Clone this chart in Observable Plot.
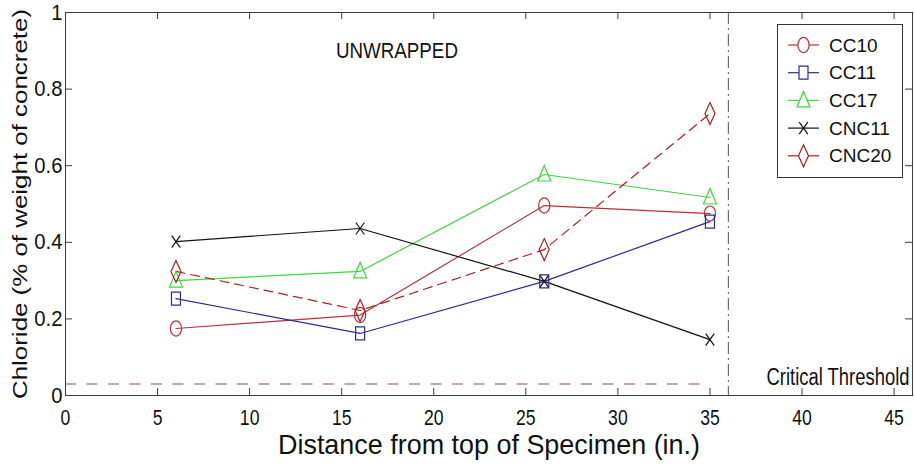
<!DOCTYPE html>
<html>
<head>
<meta charset="utf-8">
<script src="https://cdn.jsdelivr.net/npm/d3@7"></script>
<script src="https://cdn.jsdelivr.net/npm/@observablehq/plot@0.6"></script>
<style>
  html, body { margin: 0; padding: 0; background: white; }
  #wrap { position: relative; width: 914px; height: 475px; overflow: hidden; }
  #legend { position: absolute; left: 777px; top: 24px; width: 126px; height: 154px;
            border: 1px solid #333; background: white; box-sizing: border-box; }
</style>
</head>
<body>
<div id="wrap"><div id="chart"></div><div id="legend"></div></div>
<script>
// ---- data ----
const distances = [6, 16, 26, 35];
const seriesNames = ["CC10", "CC11", "CC17", "CNC11", "CNC20"];
const cc10  = [0.175, 0.21, 0.496, 0.475];
const cc11  = [0.253, 0.162, 0.298, 0.454];
const cc17  = [0.300, 0.324, 0.577, 0.517];
const cnc11 = [0.402, 0.436, 0.298, 0.146];
const cnc20 = [0.324, 0.222, 0.381, 0.736];
const xTicks = [0, 5, 10, 15, 20, 25, 30, 35, 40, 45];
const yTicks = [0, 0.2, 0.4, 0.6, 0.8, 1];
const xDomain = [0, 46];
const yDomain = [0, 1];
const thresholdValue = 0.03;
const thresholdSpan = [0, 35];
const boundaryX = 36;
const annotX = 18, annotY = 0.9;
const annotText = "UNWRAPPED";
const thresholdText = "Critical Threshold";
const xLabel = "Distance from top of Specimen (in.)";
const yLabel = "Chloride (% of weight of concrete)";

const seriesValues = [cc10, cc11, cc17, cnc11, cnc20];
const colors = ["#B8303C", "#2B2B8F", "#3CD83C", "#111111", "#A82020"];
const dashes = [null, null, null, null, "9,6"];

// custom marker shapes (MATLAB-like, slightly tall)
function ellipsePath(ctx, rx, ry) {
  const k = 0.5523;
  ctx.moveTo(rx, 0);
  ctx.bezierCurveTo(rx, k * ry, k * rx, ry, 0, ry);
  ctx.bezierCurveTo(-k * rx, ry, -rx, k * ry, -rx, 0);
  ctx.bezierCurveTo(-rx, -k * ry, -k * rx, -ry, 0, -ry);
  ctx.bezierCurveTo(k * rx, -ry, rx, -k * ry, rx, 0);
  ctx.closePath();
}
const symCircle = {draw(ctx) { ellipsePath(ctx, 5.6, 7.6); }};
const symSquare = {draw(ctx) { ctx.rect(-4.5, -6.5, 9, 13); }};
const symTriangle = {draw(ctx) { ctx.moveTo(0, -9); ctx.lineTo(6.5, 6.5); ctx.lineTo(-6.5, 6.5); ctx.closePath(); }};
const symX = {draw(ctx) { ctx.moveTo(-4.3, -6); ctx.lineTo(4.3, 6); ctx.moveTo(4.3, -6); ctx.lineTo(-4.3, 6); }};
const symDiamond = {draw(ctx) { ctx.moveTo(0, -11); ctx.lineTo(5, 0); ctx.lineTo(0, 11); ctx.lineTo(-5, 0); ctx.closePath(); }};
const symbols = [symCircle, symSquare, symTriangle, symX, symDiamond];

const rows = [];
seriesNames.forEach((name, i) => {
  seriesValues[i].forEach((v, j) => rows.push({series: name, idx: i, x: distances[j], y: v}));
});

const font = "'Liberation Sans', Arial, sans-serif";

const W = 914, H = 475, mL = 65, mR = 2, mT = 12, mB = 80;
const fw = W - mL - mR, fh = H - mT - mB;
const tickLen = 7;
const ink = "#3a3a3a";

const marks = [
  Plot.frame({stroke: ink}),
  // inward ticks on all sides
  Plot.tickX(xTicks, {x: d => d, insetTop: fh - tickLen, stroke: ink}),
  Plot.tickX(xTicks, {x: d => d, insetBottom: fh - tickLen, stroke: ink}),
  Plot.tickY(yTicks, {y: d => d, insetRight: fw - tickLen, stroke: ink}),
  Plot.tickY(yTicks, {y: d => d, insetLeft: fw - tickLen, stroke: ink}),
  Plot.axisX(xTicks, {tickSize: 0, tickPadding: 14, fontSize: 22, fontFamily: font, label: null, fill: "#111"}),
  Plot.axisY(yTicks, {tickSize: 0, tickPadding: 3, fontSize: 22, fontFamily: font, label: null, fill: "#111", tickFormat: d => String(d)}),
  // critical threshold + boundary
  Plot.ruleY([thresholdValue], {x1: thresholdSpan[0], x2: thresholdSpan[1], stroke: "#A04656", strokeWidth: 1.2, strokeDasharray: "11,10.5"}),
  Plot.ruleX([boundaryX], {stroke: "#555", strokeWidth: 1, strokeDasharray: "12,4,2,4"}),
];
seriesNames.forEach((name, i) => {
  const data = rows.filter(r => r.idx === i);
  marks.push(Plot.line(data, {x: "x", y: "y", stroke: colors[i], strokeWidth: 1.2, strokeDasharray: dashes[i]}));
});
seriesNames.forEach((name, i) => {
  const data = rows.filter(r => r.idx === i);
  marks.push(Plot.dot(data, {x: "x", y: "y", symbol: symbols[i], stroke: colors[i], fill: "none", strokeWidth: 1.2, r: 5}));
});
marks.push(
  Plot.text([annotText], {x: annotX, y: annotY, fontSize: 22, fontFamily: font, fill: "#111"}),
  Plot.text([thresholdText], {frameAnchor: "bottom-right", textAnchor: "end", dx: -3, dy: -10.5, fontSize: 23, fontFamily: font, fill: "#111"}),
  Plot.text([xLabel], {frameAnchor: "bottom", dy: 58, fontSize: 28, fontFamily: font, fill: "#111"}),
  Plot.text([yLabel], {frameAnchor: "left", textAnchor: "middle", dx: -44.5, rotate: -90, fontSize: 20, fontFamily: font, fill: "#111"})
);

const chart = Plot.plot({
  width: W, height: H,
  marginLeft: mL, marginRight: mR, marginTop: mT, marginBottom: mB,
  x: {domain: xDomain, axis: null},
  y: {domain: yDomain, axis: null},
  style: {background: "white", overflow: "visible"},
  marks
});
document.getElementById("chart").appendChild(chart);

// condense / stretch texts to match the reference's glyph widths
function setLen(t, len) {
  t.setAttribute("textLength", len);
  t.setAttribute("lengthAdjust", "spacingAndGlyphs");
}
chart.querySelectorAll('g[aria-label="x-axis tick label"] text').forEach(t => setLen(t, t.getComputedTextLength() * 0.8));
chart.querySelectorAll('g[aria-label="y-axis tick label"] text').forEach(t => setLen(t, t.getComputedTextLength() * 0.92));
const fixedLengths = new Map([[annotText, 122], [thresholdText, 143], [xLabel, 422], [yLabel, 390]]);
chart.querySelectorAll("text").forEach(t => {
  const s = t.textContent;
  if (fixedLengths.has(s)) setLen(t, fixedLengths.get(s));
});

// legend
const lg = d3.select("#legend").append("svg").attr("width", 124).attr("height", 152);
seriesNames.forEach((name, i) => {
  const cy = 20 + i * 27.7;
  const g = lg.append("g").attr("transform", `translate(0,${cy})`);
  g.append("line").attr("x1", 10).attr("x2", 41).attr("y1", 0).attr("y2", 0)
    .attr("stroke", colors[i]).attr("stroke-width", 1.2);
  g.append("path").attr("transform", "translate(25.5,0)")
    .attr("d", d3.symbol(symbols[i])()).attr("fill", "white").attr("stroke", colors[i]).attr("stroke-width", 1.2);
  g.append("text").attr("x", 51).attr("y", 0).attr("dy", "0.35em")
    .attr("font-family", font).attr("font-size", 19).attr("fill", "#111").text(name);
});
</script>
</body>
</html>
